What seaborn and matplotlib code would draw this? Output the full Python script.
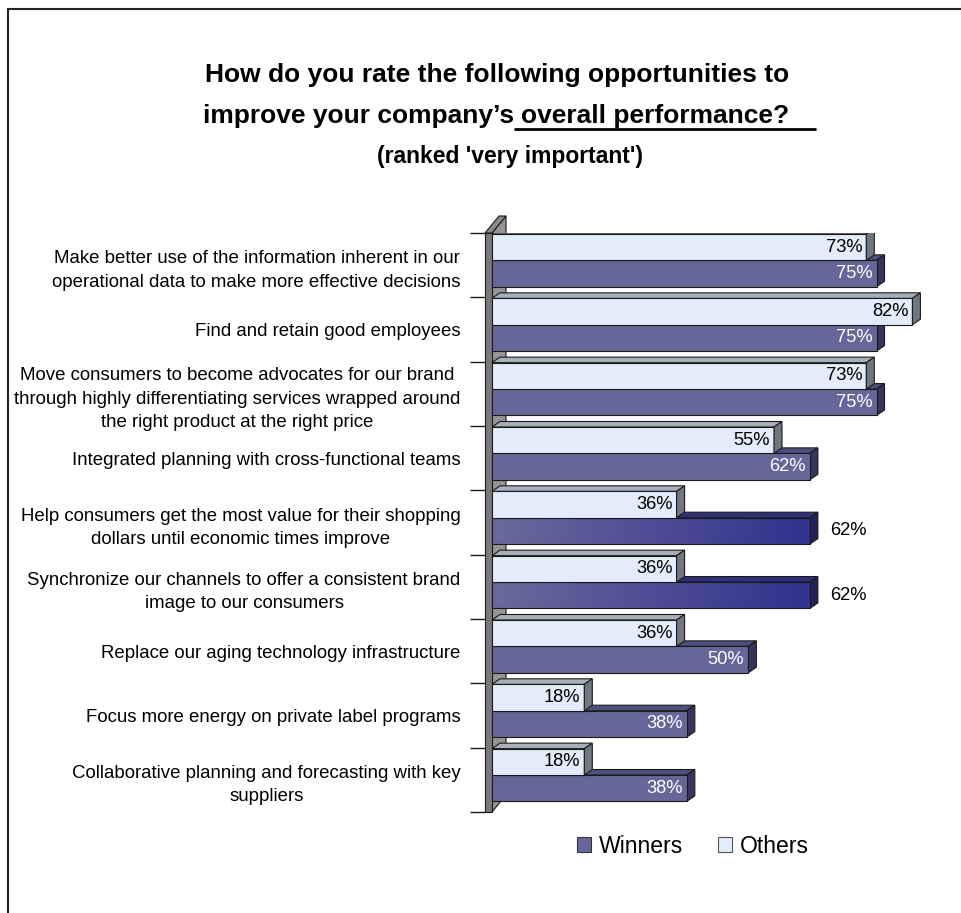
import numpy as np
import pandas as pd
import matplotlib
matplotlib.use('Agg')
import matplotlib.pyplot as plt
import seaborn as sns
from matplotlib.patches import Polygon, Rectangle, Patch
from matplotlib.lines import Line2D
from matplotlib.colors import LinearSegmentedColormap

# ---------------- data ----------------
categories = [
    "Make better use of the information inherent in our\noperational data to make more effective decisions",
    "Find and retain good employees",
    "Move consumers to become advocates for our brand\nthrough highly differentiating services wrapped around\nthe right product at the right price",
    "Integrated planning with cross-functional teams",
    "Help consumers get the most value for their shopping\ndollars until economic times improve",
    "Synchronize our channels to offer a consistent brand\nimage to our consumers",
    "Replace our aging technology infrastructure",
    "Focus more energy on private label programs",
    "Collaborative planning and forecasting with key\nsuppliers",
]
others = [73, 82, 73, 55, 36, 36, 36, 18, 18]
winners = [75, 75, 75, 62, 62, 62, 50, 38, 38]
highlighted = [False, False, False, False, True, True, False, False, False]
series_names = ["Others", "Winners"]

title_line1 = "How do you rate the following opportunities to"
title_line2a = "improve your company\u2019s"
title_line2b = "overall performance?"
subtitle = "(ranked 'very important')"

df = pd.DataFrame({
    "Opportunity": categories * 2,
    "Series": ["Others"] * len(categories) + ["Winners"] * len(categories),
    "Value": others + winners,
})

# ---------------- style ----------------
sns.set_theme(style="white")
plt.rcParams['font.family'] = ['Liberation Sans', 'DejaVu Sans']
plt.rcParams['text.color'] = 'black'
plt.rcParams['ytick.color'] = 'black'
plt.rcParams['ytick.labelcolor'] = 'black'
plt.rcParams['axes.labelcolor'] = 'black'

W, H = 961, 913
fig = plt.figure(figsize=(W / 100, H / 100), dpi=100)
fig.patch.set_facecolor('white')

PX_X = 5.127            # pixels per percent
AX_TOP, AX_BOT = 233, 812
X0 = -7 / PX_X
X1 = 90
ax = fig.add_axes([485 / W, (H - AX_BOT) / H, (X1 - X0) * PX_X / W, (AX_BOT - AX_TOP) / H])
ax.set_facecolor('none')

col_others = '#E3ECFA'
col_winners = '#666699'

sns.barplot(data=df, y="Opportunity", x="Value", hue="Series", hue_order=series_names,
            order=categories, palette={"Others": col_others, "Winners": col_winners},
            orient='h', width=0.82, saturation=1, edgecolor='#1a1a1a', linewidth=0.8,
            legend=False, ax=ax)

ax.set_xlim(X0, X1)
ax.set_ylim(len(categories) - 0.5, -0.5)
PX_Y = (AX_BOT - AX_TOP) / len(categories)
shift = 4.8 / PX_Y
DX = 8 / PX_X
DY = 5.5 / PX_Y

face_cols = {
    "Others": ('#A7B0BA', '#6F7881'),
    "Winners": ('#4E4E80', '#35355E'),
}
hl_faces = ('#2F2F7A', '#222258')
grad = LinearSegmentedColormap.from_list('g', ['#6A6A9C', '#31318F'])

containers = {name: c for name, c in zip(series_names, ax.containers)}
zbase = {"Winners": 3, "Others": 4}
for name in series_names:
    vals = others if name == "Others" else winners
    for i, p in enumerate(containers[name]):
        p.set_y(p.get_y() - shift)
        x, y, w, h = p.get_x(), p.get_y(), p.get_width(), p.get_height()
        hl = (name == "Winners" and highlighted[i])
        topc, sidec = hl_faces if hl else face_cols[name]
        z = zbase[name]
        p.set_zorder(z)
        fz = z + 0.1 if name == "Others" else z - 0.1
        top = Polygon([(x, y), (x + w, y), (x + w + DX, y - DY), (x + DX, y - DY)],
                      closed=True, fc=topc, ec='#1a1a1a', lw=0.8, zorder=fz)
        side = Polygon([(x + w, y), (x + w + DX, y - DY), (x + w + DX, y + h - DY), (x + w, y + h)],
                       closed=True, fc=sidec, ec='#1a1a1a', lw=0.8, zorder=fz)
        ax.add_patch(top)
        ax.add_patch(side)
        if hl:
            gimg = np.linspace(0, 1, 256).reshape(1, -1)
            im = ax.imshow(gimg, cmap=grad, extent=[x, x + w, y + h, y], aspect='auto',
                           zorder=z + 0.02, interpolation='bilinear')
            im.set_clip_path(p)
            p.set_facecolor('none')
            p.set_zorder(z + 0.05)
        # value labels
        if hl:
            ax.text(x + w + 20 / PX_X, y + h / 2, f"{vals[i]}%", ha='left', va='center',
                    fontsize=13.2, color='black', zorder=7)
        else:
            ax.text(x + w - 4 / PX_X, y + h / 2, f"{vals[i]}%", ha='right', va='center',
                    fontsize=13.2, color='black' if name == "Others" else 'white', zorder=7)

ax.set_xlim(X0, X1)
ax.set_ylim(len(categories) - 0.5, -0.5)

# wall
ylo, yhi = -0.5, len(categories) - 0.5
WDX = 14 / PX_X
WDY = 17 / PX_Y
ax.add_patch(Polygon([(0, ylo), (WDX, ylo - WDY), (WDX, yhi - WDY), (0, yhi)], closed=True,
                     fc='#959595', ec='#1a1a1a', lw=0.8, zorder=1, clip_on=False))
ax.add_patch(Polygon([(X0, ylo), (0, ylo), (WDX, ylo - WDY), (X0 + WDX, ylo - WDY)], closed=True,
                     fc='#8A8A8A', ec='#1a1a1a', lw=0.8, zorder=1.5, clip_on=False))
ax.add_patch(Rectangle((X0, ylo), -X0, yhi - ylo, fc='#7A7A7A', ec='#1a1a1a', lw=0.8,
                       zorder=1.6, clip_on=False))

# axes cosmetics
for s in ['top', 'right', 'bottom', 'left']:
    ax.spines[s].set_visible(False)
ax.set_xlabel('')
ax.set_ylabel('')
ax.set_xticks([])
ax.set_yticks(range(len(categories)))
ax.set_yticklabels(categories, fontsize=13.4, linespacing=1.5, multialignment='center', color='black')
ax.set_yticks(np.arange(-0.5, len(categories), 1.0), minor=True)
ax.tick_params(axis='y', which='major', length=0, pad=17.5, labelcolor='black')
ax.tick_params(axis='y', which='minor', length=10.8, width=1.0, color='#1a1a1a', direction='out', left=True)
ax.grid(False)

# titles
fig.text(497 / W, 1 - 75 / H, title_line1, ha='center', va='center', fontsize=19, weight='bold', color='black')
t2a = fig.text(514 / W, 1 - 116 / H, title_line2a, ha='right', va='center', fontsize=19, weight='bold', color='black')
t2b = fig.text(521 / W, 1 - 116 / H, title_line2b, ha='left', va='center', fontsize=19, weight='bold', color='black')
fig.text(510 / W, 1 - 156 / H, subtitle, ha='center', va='center', fontsize=16.5, weight='bold', color='black')

fig.canvas.draw()
r = fig.canvas.get_renderer()
ba = t2a.get_window_extent(r)
bb = t2b.get_window_extent(r)
uy = 1 - 129 / H
fig.add_artist(Line2D([ba.x1 / W + 1 / W, (bb.x1 + 26) / W], [uy, uy], color='black', lw=2.0))

# legend
handles = [Patch(fc=col_winners, ec='#333333', lw=0.8), Patch(fc=col_others, ec='#555555', lw=0.8)]
leg = fig.legend(handles=handles, labels=["Winners", "Others"], loc='center',
                 bbox_to_anchor=(693 / W, 1 - 846 / H), ncol=2, frameon=False, fontsize=16.6,
                 handlelength=0.6, handleheight=0.6, handletextpad=0.35, columnspacing=1.5)
for t in leg.get_texts():
    t.set_color('black')

# figure border (top & left)
fig.add_artist(Line2D([8 / W, 1], [1 - 9 / H, 1 - 9 / H], color='#222222', lw=1.5))
fig.add_artist(Line2D([8 / W, 8 / W], [0, 1 - 9 / H], color='#222222', lw=1.5))

fig.savefig('out.png', dpi=100, facecolor='white')
